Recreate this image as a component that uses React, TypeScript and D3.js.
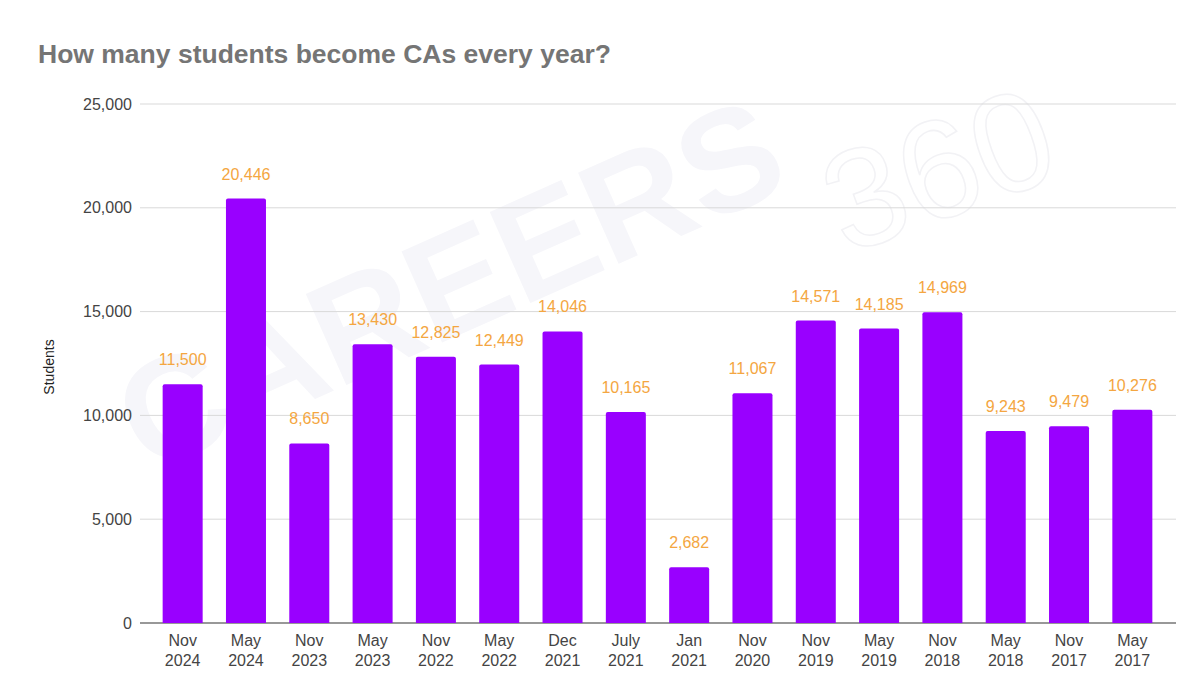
import React from "react";
import * as d3 from "d3";

const categories: string[][] = [
  ["Nov", "2024"], ["May", "2024"], ["Nov", "2023"], ["May", "2023"],
  ["Nov", "2022"], ["May", "2022"], ["Dec", "2021"], ["July", "2021"],
  ["Jan", "2021"], ["Nov", "2020"], ["Nov", "2019"], ["May", "2019"],
  ["Nov", "2018"], ["May", "2018"], ["Nov", "2017"], ["May", "2017"],
];
const students: number[] = [
  11500, 20446, 8650, 13430, 12825, 12449, 14046, 10165,
  2682, 11067, 14571, 14185, 14969, 9243, 9479, 10276,
];
const yTicks: number[] = [0, 5000, 10000, 15000, 20000, 25000];

const W = 1200;
const H = 675;
const gridLeft = 140;
const gridRight = 1176;
const bandLeft = 151;
const bandRight = 1164;
const yTop = 104;
const yBottom = 623;
const FONT = "Arial, 'Liberation Sans', sans-serif";

export default function App() {
  const keys = categories.map((c) => c.join(" "));
  const x = d3.scaleBand<string>().domain(keys).range([bandLeft, bandRight])
    .paddingInner(0.368).paddingOuter(0.184);
  const y = d3.scaleLinear().domain([0, 25000]).range([yBottom, yTop]);
  const fmt = d3.format(",");
  const bw = x.bandwidth();

  return (
    <svg width={W} height={H} style={{ position: "absolute", left: 0, top: 0, background: "#fff" }}>
      <rect x={0} y={0} width={W} height={H} fill="#fff" />
      {/* watermark */}
      <g transform="translate(470,330) rotate(-24)">
        <text x={0} y={0} textAnchor="middle" fontFamily={FONT} fontWeight="bold" fontSize={145} fill="#f6f6fa">CAREERS</text>
      </g>
      <g transform="translate(955,215) rotate(-20)">
        <text x={0} y={0} textAnchor="middle" fontFamily={FONT} fontWeight={100} fontSize={140} fill="none" stroke="#f2f2f5" strokeWidth={1.5}>360</text>
      </g>
      <text x={38} y={63} fontFamily={FONT} fontWeight="bold" fontSize={26.5} fill="#757575">How many students become CAs every year?</text>
      {yTicks.map((t) => (
        <g key={t}>
          <line x1={gridLeft} x2={gridRight} y1={y(t)} y2={y(t)} stroke={t === 0 ? "#333" : "#d9d9d9"} strokeWidth={t === 0 ? 1.2 : 1} />
          <text x={132} y={y(t)} dy="0.35em" textAnchor="end" fontFamily={FONT} fontSize={16} fill="#444">{fmt(t)}</text>
        </g>
      ))}
      {students.map((v, i) => {
        const k = keys[i];
        const x0 = x(k)!;
        const top = y(v);
        const h = yBottom - top;
        const r = 2;
        const path = `M${x0},${yBottom} V${top + r} Q${x0},${top} ${x0 + r},${top} H${x0 + bw - r} Q${x0 + bw},${top} ${x0 + bw},${top + r} V${yBottom} Z`;
        return (
          <g key={k}>
            <path d={h > 0 ? path : ""} fill="#9900ff" />
            <text x={x0 + bw / 2} y={top - 19} textAnchor="middle" fontFamily={FONT} fontSize={16} fill="#f4a641">{fmt(v)}</text>
            <text x={x0 + bw / 2} y={646} textAnchor="middle" fontFamily={FONT} fontSize={16} fill="#444">{categories[i][0]}</text>
            <text x={x0 + bw / 2} y={666} textAnchor="middle" fontFamily={FONT} fontSize={16} fill="#444">{categories[i][1]}</text>
          </g>
        );
      })}
      <text transform={`translate(54,367) rotate(-90)`} textAnchor="middle" fontFamily={FONT} fontSize={14} fill="#222">Students</text>
    </svg>
  );
}
